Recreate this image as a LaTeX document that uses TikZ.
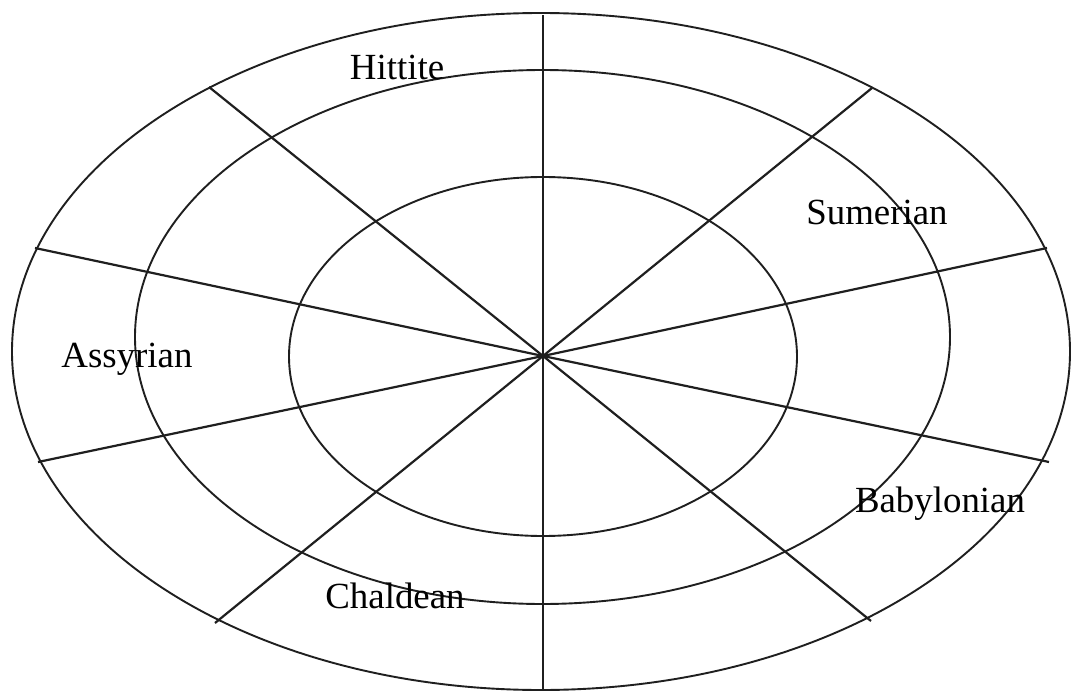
\documentclass[tikz,border=0pt]{standalone}
\usepackage{fontspec}
\setmainfont{Liberation Serif}
\begin{document}
\begin{tikzpicture}[x=1bp,y=-1bp,
  ring/.style={draw=black!88, line width=1.9bp},
  spoke/.style={draw=black!88, line width=2.2bp},
  lbl/.style={font=\fontsize{37}{40}\selectfont, anchor=base, inner sep=0pt, text=black}]
\useasboundingbox[fill=white] (0,0) rectangle (1072,692);
% rings
\draw[ring] (541,351.5) ellipse [x radius=529, y radius=338.5];
\draw[ring] (542.5,337) ellipse [x radius=407.5, y radius=267];
\draw[ring] (543,356.5) ellipse [x radius=254, y radius=179.5];
% centre and spoke ends
\coordinate (c) at (543,356);
\coordinate (n) at (543,15);
\coordinate (s) at (543,690);
\coordinate (nw) at (209,87);
\coordinate (se) at (871,621);
\coordinate (ne) at (872,88);
\coordinate (sw) at (215,623);
\coordinate (wn) at (35,248);
\coordinate (es) at (1049,462);
\coordinate (en) at (1047,248);
\coordinate (ws) at (38,462);
\foreach \p in {n,s,nw,se,ne,sw,wn,es,en,ws}{\draw[spoke] (c) -- (\p);}
% labels
\node[lbl] (hittite) at (397,80) {Hittite};
\node[lbl] (sumerian) at (877,224) {Sumerian};
\node[lbl] (assyrian) at (127,367) {Assyrian};
\node[lbl] (babylonian) at (940,512) {Babylonian};
\node[lbl] (chaldean) at (395,608) {Chaldean};
\end{tikzpicture}
\end{document}
